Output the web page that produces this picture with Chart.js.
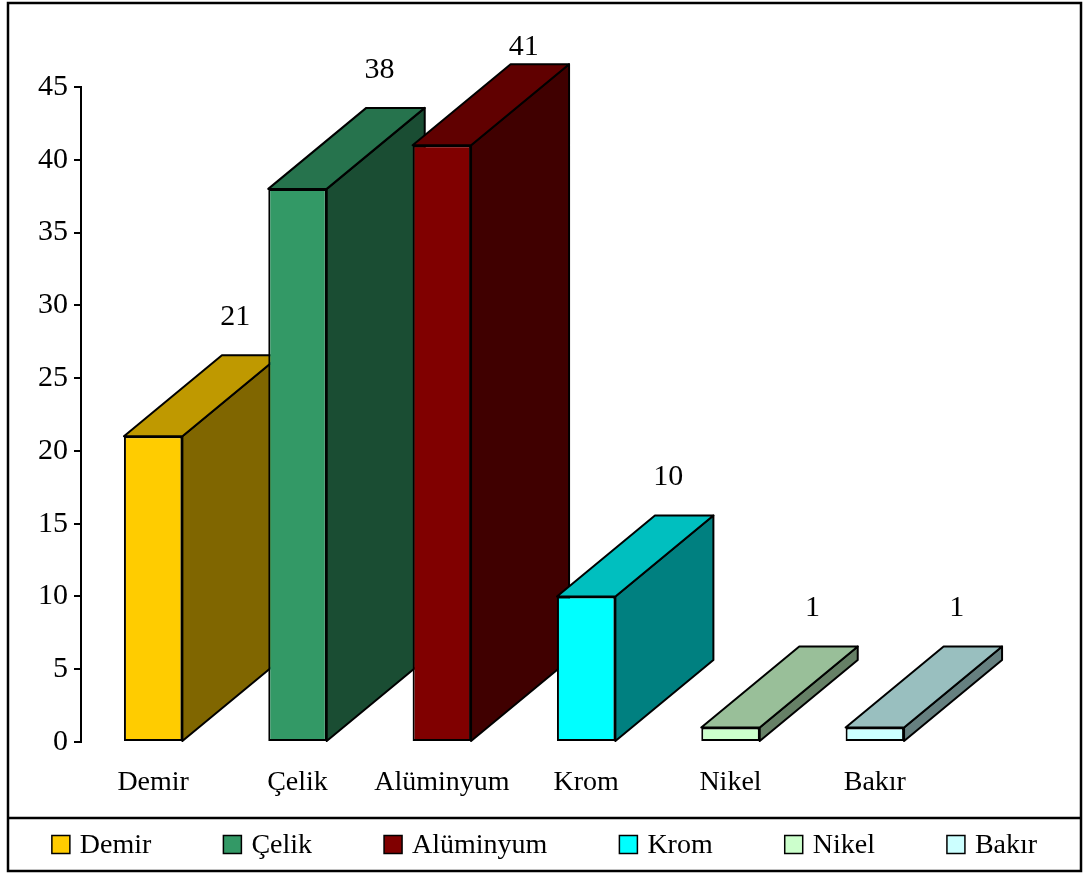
<!DOCTYPE html>
<html>
<head>
<meta charset="utf-8">
<script src="https://cdn.jsdelivr.net/npm/chart.js@4.4.0/dist/chart.umd.min.js"></script>
<style>
  html, body { margin: 0; padding: 0; background: #ffffff; }
  #wrap { width: 1083px; height: 873px; }
</style>
</head>
<body>
<div id="wrap"><canvas id="metalChart" width="1083" height="873"></canvas></div>
<script>
// Veriler
const categories = ['Demir', 'Çelik', 'Alüminyum', 'Krom', 'Nikel', 'Bakır'];
const values = [21, 38, 41, 10, 1, 1];
const yTicks = [0, 5, 10, 15, 20, 25, 30, 35, 40, 45];

// Ön yüz renkleri (yan ve üst yüzler bunlardan koyulaştırılır)
const colors = ['#FFCC00', '#339966', '#800000', '#00FFFF', '#CCFFCC', '#CCFFFF'];

const FONT = "'Liberation Serif', 'Times New Roman', serif";
const DEPTH_X = 98;
const DEPTH_Y = -81;
const LEGEND_H = 55;

function shade(hex, f) {
    const n = parseInt(hex.slice(1), 16);
    const r = Math.round(((n >> 16) & 255) * f);
    const g = Math.round(((n >> 8) & 255) * f);
    const b = Math.round((n & 255) * f);
    return 'rgb(' + r + ',' + g + ',' + b + ')';
}

function poly(ctx, pts, fill) {
    ctx.beginPath();
    ctx.moveTo(pts[0][0], pts[0][1]);
    for (let i = 1; i < pts.length; i++) ctx.lineTo(pts[i][0], pts[i][1]);
    ctx.closePath();
    ctx.fillStyle = fill;
    ctx.fill();
    ctx.stroke();
}

// Çerçeve, ayırıcı çizgi ve alt kutudaki lejant
const framePlugin = {
    id: 'frame',
    beforeDraw(chart) {
        const ctx = chart.ctx;
        ctx.save();
        ctx.fillStyle = '#ffffff';
        ctx.fillRect(0, 0, chart.width, chart.height);
        ctx.restore();
    },
    afterDraw(chart) {
        const ctx = chart.ctx;
        const left = 8, right = chart.width - 2;
        const sepY = chart.height - LEGEND_H;
        ctx.save();
        ctx.strokeStyle = '#000000';
        ctx.lineWidth = 2.5;
        ctx.strokeRect(left, 3, right - left, chart.height - 5);
        ctx.beginPath();
        ctx.moveTo(left, sepY);
        ctx.lineTo(right, sepY);
        ctx.stroke();

        // lejant öğeleri: kutu + metin, ortalanmış tek satır
        const box = 18, gapText = 10, gapItem = 72;
        ctx.font = '28px ' + FONT;
        const widths = categories.map(t => ctx.measureText(t).width);
        let total = 0;
        widths.forEach((w, i) => { total += box + gapText + w + (i < widths.length - 1 ? gapItem : 0); });
        let x = (left + right - total) / 2;
        const cy = sepY + (chart.height - 2 - sepY) / 2;
        ctx.textBaseline = 'middle';
        ctx.textAlign = 'left';
        ctx.lineWidth = 1.5;
        categories.forEach((t, i) => {
            ctx.fillStyle = colors[i];
            ctx.fillRect(x, cy - box / 2, box, box);
            ctx.strokeRect(x, cy - box / 2, box, box);
            ctx.fillStyle = '#000000';
            ctx.fillText(t, x + box + gapText, cy + 1);
            x += box + gapText + widths[i] + gapItem;
        });
        ctx.restore();
    }
};

// Sütunların yan ve üst yüzleri + değer etiketleri
const bar3dPlugin = {
    id: 'bar3d',
    beforeDatasetsDraw(chart) {
        const ctx = chart.ctx;
        const meta = chart.getDatasetMeta(0);
        ctx.save();
        ctx.strokeStyle = '#000000';
        ctx.lineWidth = 2;
        ctx.lineJoin = 'round';
        meta.data.forEach((bar, i) => {
            const p = bar.getProps(['x', 'y', 'base', 'width'], true);
            const l = p.x - p.width / 2, r = p.x + p.width / 2;
            const t = p.y, b = p.base;
            poly(ctx, [[r, t], [r + DEPTH_X, t + DEPTH_Y], [r + DEPTH_X, b + DEPTH_Y], [r, b]], shade(colors[i], 0.5));
            poly(ctx, [[l, t], [l + DEPTH_X, t + DEPTH_Y], [r + DEPTH_X, t + DEPTH_Y], [r, t]], shade(colors[i], 0.75));
        });
        ctx.restore();
    },
    afterDatasetsDraw(chart) {
        const ctx = chart.ctx;
        const meta = chart.getDatasetMeta(0);
        const minBase = chart.chartArea.top - 32;
        ctx.save();
        ctx.fillStyle = '#000000';
        ctx.font = '30px ' + FONT;
        ctx.textAlign = 'center';
        ctx.textBaseline = 'alphabetic';
        meta.data.forEach((bar, i) => {
            const p = bar.getProps(['x', 'y'], true);
            const y = Math.max(p.y + DEPTH_Y - 30, minBase);
            ctx.fillText(String(values[i]), p.x + DEPTH_X - 16, y);
        });
        ctx.restore();
    }
};

new Chart(document.getElementById('metalChart').getContext('2d'), {
    type: 'bar',
    data: {
        labels: categories,
        datasets: [{
            data: values,
            backgroundColor: colors,
            borderColor: '#000000',
            borderWidth: 2,
            borderSkipped: false,
            barPercentage: 0.405,
            categoryPercentage: 1
        }]
    },
    options: {
        responsive: false,
        animation: false,
        events: [],
        layout: { padding: { top: 87, left: 0, right: 0, bottom: LEGEND_H } },
        plugins: {
            tooltip: { enabled: false },
            legend: { display: false }
        },
        scales: {
            x: {
                grid: { display: false, drawTicks: false },
                border: { display: false },
                ticks: { color: '#000000', font: { family: FONT, size: 28 }, padding: 24 },
                afterFit: function (s) { s.height = 76; }
            },
            y: {
                min: 0,
                max: 45,
                afterBuildTicks: function (s) { s.ticks = yTicks.map(v => ({ value: v })); },
                grid: { drawOnChartArea: false, drawTicks: true, tickLength: 7, color: '#000000', lineWidth: 2 },
                border: { display: true, color: '#000000', width: 2 },
                ticks: { color: '#000000', font: { family: FONT, size: 30 }, padding: 6 },
                afterFit: function (s) { s.width = 81; }
            },
            yRight: {
                position: 'right',
                display: true,
                grid: { display: false },
                border: { display: false },
                ticks: { display: false },
                afterFit: function (s) { s.width = 136; }
            }
        }
    },
    plugins: [framePlugin, bar3dPlugin]
});
</script>
</body>
</html>
